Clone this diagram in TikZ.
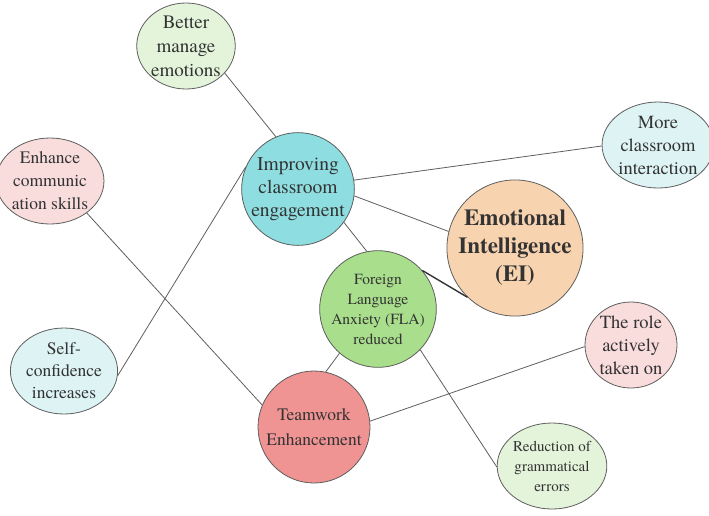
\documentclass[tikz,border=0pt]{standalone}
\usepackage{fontspec}
\setmainfont{texgyretermes}[Extension=.otf,UprightFont=*-regular,BoldFont=*-bold,ItalicFont=*-italic,BoldItalicFont=*-bolditalic]
\usetikzlibrary{shapes.geometric}
\definecolor{mintbg}{HTML}{E3F4DA}
\definecolor{icebg}{HTML}{DDF3F4}
\definecolor{rosebg}{HTML}{F9DCDC}
\definecolor{tealbg}{HTML}{8EDDE0}
\definecolor{leafbg}{HTML}{A8DE8C}
\definecolor{peachbg}{HTML}{F8D3AF}
\definecolor{coralbg}{HTML}{F09393}
\definecolor{edgegray}{HTML}{5E5E5E}

\begin{document}
\begin{tikzpicture}[x=1pt,y=-1pt,line width=0.8pt,
  bubble/.style={ellipse,draw=edgegray,inner sep=0pt,align=center,minimum width=92pt,minimum height=86pt,text=black!80},
  hub/.style={circle,draw=edgegray,inner sep=0pt,align=center,minimum size=#1,text=black!80},
  link/.style={draw=edgegray}]
  \useasboundingbox (0,0) rectangle (709,515);
  % outer bubbles
  \node[bubble,fill=mintbg,font=\fontsize{19}{24}\selectfont](better)at(186,46){Better\\manage\\emotions};
  \node[bubble,fill=rosebg,font=\fontsize{17.5}{23}\selectfont](enhance)at(50,181){Enhance\\communic\\ation skills};
  \node[bubble,fill=icebg,font=\fontsize{17.5}{22}\selectfont](selfconf)at(64,371){Self-\\confidence\\increases};
  \node[bubble,fill=icebg,font=\fontsize{18.5}{23}\selectfont](interact)at(658,145){More\\classroom\\interaction};
  \node[bubble,fill=rosebg,font=\fontsize{18.5}{23}\selectfont](role)at(631,345){The role\\actively\\taken on};
  \node[bubble,fill=mintbg,font=\fontsize{15}{20}\selectfont](grammar)at(552,466){Reduction of\\grammatical\\errors};
  % inner hubs
  \node[hub=111pt,fill=tealbg,font=\fontsize{19.5}{23}\selectfont](engage)at(298,189){Improving\\classroom\\engagement};
  \node[hub=132pt,fill=peachbg,font=\fontsize{23}{28}\selectfont\bfseries](ei)at(515,248){Emotional\\Intelligence\\(EI)};
  \node[hub=110pt,fill=leafbg,font=\fontsize{15.5}{20}\selectfont](fla)at(378,309){Foreign\\Language\\Anxiety (FLA)\\reduced};
  \node[hub=112pt,fill=coralbg,font=\fontsize{17.5}{25}\selectfont](team)at(314,427){Teamwork\\Enhancement};
  % connectors
  \draw[link](better.-35)--(engage.113);
  \draw[link](engage.9)--(interact.181);
  \draw[link](engage.-7)--(ei.166);
  \draw[link](engage.-36)--(fla.101);
  \draw[link](selfconf.-5)--(engage.157);
  \draw[link](enhance.-41)--(team.157);
  \draw[link,line width=1.4pt,draw=black!80](fla.41)--(ei.226);
  \draw[link](fla.229)--(team.78);
  \draw[link](team.6)--(role.182);
  \draw[link](fla.-44)--(grammar.181);
\end{tikzpicture}
\end{document}
